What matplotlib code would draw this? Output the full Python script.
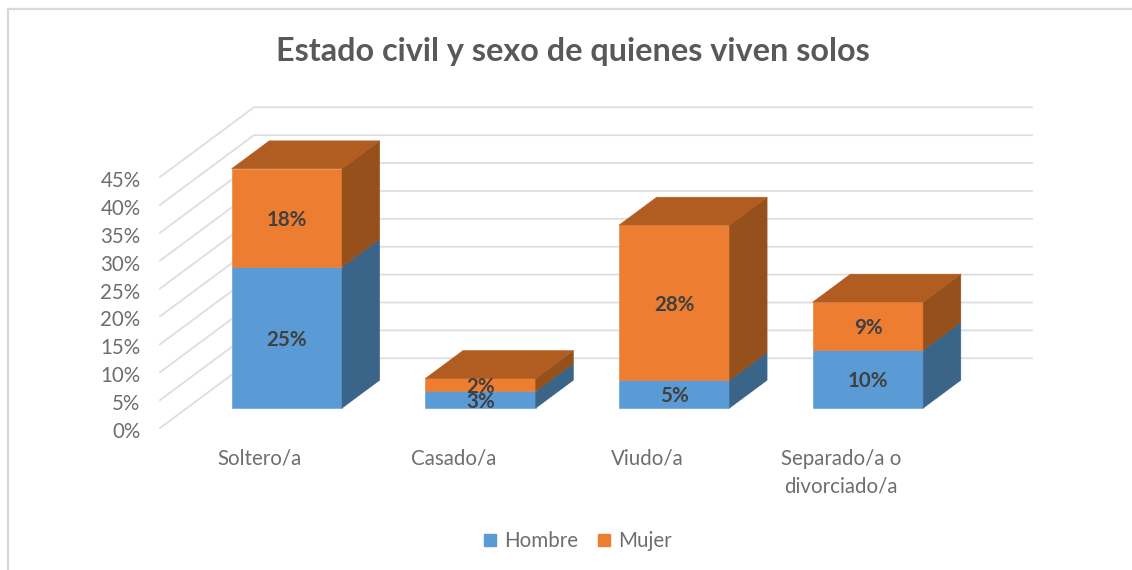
import matplotlib
matplotlib.use("Agg")
import matplotlib.pyplot as plt
from matplotlib.lines import Line2D
from matplotlib.patches import Patch, Polygon
from matplotlib.transforms import ScaledTranslation

plt.rcParams['font.family'] = ['Lato', 'DejaVu Sans']

# Datos
categorias = ['Soltero/a', 'Casado/a', 'Viudo/a', 'Separado/a o\ndivorciado/a']
hombre = [25.3, 3.0, 5.0, 10.4]
mujer = [17.6, 2.3, 27.8, 8.6]
ticks_y = [0, 5, 10, 15, 20, 25, 30, 35, 40, 45]

# Estilo
azul = '#5B9BD5'
azul_lado = '#3A6488'
naranja = '#ED7D31'
naranja_lado = '#96501B'
naranja_arriba = '#B15C20'
gris_grid = '#DEDEDE'

# Desplazamiento 3D (profundidad 1 = fondo del grafico)
prof_x = 0.485
prof_y = 12.5
z_frente = 0.286
z_fondo = 0.686
ancho = 0.57
x_min = -0.516
x_max = 3.5


def proy(x, y, z):
    return (x + z * prof_x, y + z * prof_y)


def cara(ax, puntos, color, zorder=3):
    ax.add_patch(Polygon(puntos, closed=True, facecolor=color, edgecolor=color,
                         linewidth=0.4, clip_on=False, zorder=zorder))


fig = plt.figure(figsize=(11.32, 5.70), dpi=100)
ax = fig.add_axes([160 / 1132, 1 - 428 / 570, 778 / 1132, 251 / 570])
ax.set_xlim(x_min, x_max)
ax.set_ylim(0, 45)
for s in ax.spines.values():
    s.set_visible(False)
ax.patch.set_alpha(0)

ax.set_yticks(ticks_y)
ax.set_yticklabels([f'{t}%' for t in ticks_y], fontsize=14.8, color='#6E6E6E')
ax.set_xticks(range(len(categorias)))
ax.set_xticklabels(categorias, fontsize=14.8, color='#6E6E6E', linespacing=1.5, va='top')
ax.tick_params(axis='both', length=0)
ax.tick_params(axis='y', pad=14)
ax.tick_params(axis='x', pad=15)

# Las etiquetas del eje y van un poco mas abajo
baja = ScaledTranslation(0, -2 / 100, fig.dpi_scale_trans)
for lab in ax.get_yticklabels():
    lab.set_transform(lab.get_transform() + baja)

# Lineas de cuadricula: pared lateral y pared de fondo
for t in ticks_y:
    x0, y0 = proy(x_min, t, 0)
    x1, y1 = proy(x_min, t, 1)
    x2, y2 = proy(x_max, t, 1)
    ax.plot([x0, x1, x2], [y0, y1, y2], color=gris_grid, lw=1.3, clip_on=False, zorder=1)

# Barras apiladas
for i in range(len(categorias)):
    izq = i - ancho / 2
    der = i + ancho / 2
    tramos = [(0, hombre[i], azul, azul_lado),
              (hombre[i], hombre[i] + mujer[i], naranja, naranja_lado)]
    for abajo, arriba, color, lado in tramos:
        cara(ax, [proy(izq, abajo, z_frente), proy(der, abajo, z_frente),
                  proy(der, arriba, z_frente), proy(izq, arriba, z_frente)], color)
        cara(ax, [proy(der, abajo, z_frente), proy(der, abajo, z_fondo),
                  proy(der, arriba, z_fondo), proy(der, arriba, z_frente)], lado)
    tope = hombre[i] + mujer[i]
    cara(ax, [proy(izq, tope, z_frente), proy(der, tope, z_frente),
              proy(der, tope, z_fondo), proy(izq, tope, z_fondo)], naranja_arriba)

    # Etiquetas de datos
    for abajo, arriba in [(0, hombre[i]), (hombre[i], tope)]:
        xt, yt = proy(i, (abajo + arriba) / 2, z_frente)
        ax.annotate(f'{arriba - abajo:.0f}%', (xt, yt), xytext=(0, -1.5), textcoords='offset points',
                    ha='center', va='center', fontsize=14.8, fontweight='bold',
                    color='#404040', zorder=5)

# Marco del grafico
fig.add_artist(Line2D([8 / 1132, 8 / 1132, 1], [0, 1 - 9 / 570, 1 - 9 / 570],
                      color='#D9D9D9', lw=1.6))

fig.text(573 / 1132, 1 - 52 / 570, 'Estado civil y sexo de quienes viven solos',
         ha='center', va='center', fontsize=23.3, fontweight='bold', color='#595959')

fig.legend(handles=[Patch(color=azul, label='Hombre'), Patch(color=naranja, label='Mujer')],
           loc='center', bbox_to_anchor=(578 / 1132, 1 - 541 / 570), ncol=2, frameon=False,
           fontsize=14.8, labelcolor='#6E6E6E', handlelength=0.55, handleheight=0.55,
           handletextpad=0.4, columnspacing=1.0)

fig.savefig('out.png', dpi=100)
